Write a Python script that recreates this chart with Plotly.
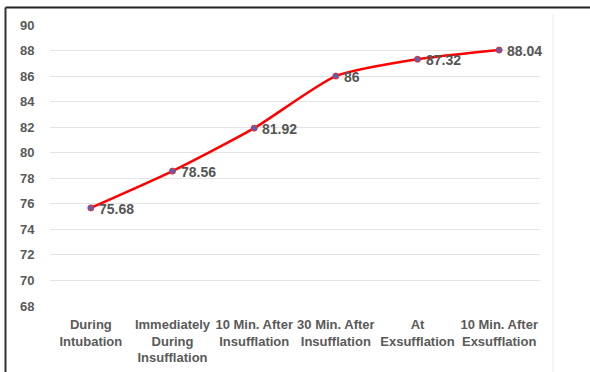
import plotly.graph_objects as go

# Stage of the procedure and mean value recorded at each stage
stages = [
    "During<br>Intubation",
    "Immediately<br>During<br>Insufflation",
    "10 Min. After<br>Insufflation",
    "30 Min. After<br>Insufflation",
    "At<br>Exsufflation",
    "10 Min. After<br>Exsufflation",
]
values = [75.68, 78.56, 81.92, 86, 87.32, 88.04]
y_ticks = list(range(68, 91, 2))

W, H = 590, 372
L, R, T, B = 50, 50, 25, 66

fig = go.Figure()
fig.add_trace(go.Scatter(
    x=stages, y=values, mode="lines+markers",
    line=dict(color="#ff0000", width=2.5, shape="spline", smoothing=0.6),
    marker=dict(size=6, color="#5b5fb8", line=dict(color="#e03030", width=1)),
    hoverinfo="skip", showlegend=False,
))

for s, v in zip(stages, values):
    fig.add_annotation(
        x=s, y=v, text=f"<b>{v:g}</b>", showarrow=False,
        xanchor="left", yanchor="middle", xshift=6, yshift=-1,
        font=dict(family="Liberation Sans, Arial", size=14, color="#555555"),
    )

gray = "#5a5a5a"
fig.update_xaxes(
    range=[-0.5, len(stages) - 0.5],
    showgrid=False, showline=False, zeroline=False, automargin=False,
    ticks="outside", ticklen=6, tickcolor="rgba(0,0,0,0)",
    tickfont=dict(family="Liberation Sans, Arial", size=13, color=gray, weight="bold"),
)
fig.update_yaxes(
    range=[68, 90], tickvals=y_ticks, showline=False, zeroline=False,
    automargin=False,
    gridcolor="#e4e4e4", gridwidth=1,
    ticks="outside", ticklen=12, tickcolor="rgba(0,0,0,0)",
    tickfont=dict(family="Liberation Sans, Arial", size=13, color=gray, weight="bold"),
)

# frame lines around the chart area, in paper coordinates
pw, ph = W - L - R, H - T - B
def px(x):
    return (x - L) / pw
def py(y):
    return (H - B - y) / ph

fig.add_shape(type="line", xref="paper", yref="paper",
              x0=px(5.5), x1=px(592), y0=py(7.5), y1=py(7.5),
              line=dict(color="#222222", width=2))
fig.add_shape(type="line", xref="paper", yref="paper",
              x0=px(5.5), x1=px(5.5), y0=py(7.5), y1=py(374),
              line=dict(color="#333333", width=2))
fig.add_shape(type="line", xref="paper", yref="paper",
              x0=px(553), x1=px(553), y0=py(14), y1=py(374),
              line=dict(color="#ededed", width=1))

fig.update_layout(
    width=W, height=H,
    margin=dict(l=L, r=R, t=T, b=B, autoexpand=False),
    paper_bgcolor="white", plot_bgcolor="white",
)

fig.write_html("out.html")
